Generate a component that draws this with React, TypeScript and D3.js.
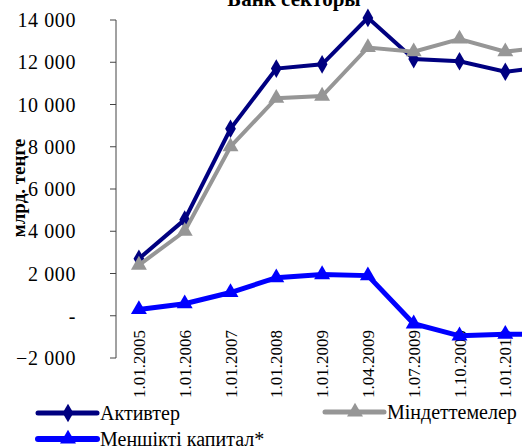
import React from "react";
import * as d3 from "d3";

const categories = [
    "1.01.2005",
    "1.01.2006",
    "1.01.2007",
    "1.01.2008",
    "1.01.2009",
    "1.04.2009",
    "1.07.2009",
    "1.10.2009",
    "1.01.2010",
    "1.04.2010",
];

// млрд. теңге
const assets = [2700, 4550, 8850, 11700, 11900, 14100, 12150, 12050, 11550, 11800];
const liabilities = [2400, 4000, 8000, 10300, 10400, 12700, 12500, 13100, 12500, 12750];
const equity = [300, 570, 1100, 1800, 1950, 1900, -380, -950, -870, -880];

const yTicks = [-2000, 0, 2000, 4000, 6000, 8000, 10000, 12000, 14000];

const seriesNames = ["Активтер", "Міндеттемелер", "Меншікті капитал*"];

const W = 522;
const H = 448;
const FONT = "Liberation Serif, Times New Roman, serif";

const fmt = (v: number) =>
    v === 0 ? "-" : d3.format(",")(v).replace(/,/g, " ");

const diamond = d3.symbol(d3.symbolDiamond, 100)();
const triangle = d3.symbol(d3.symbolTriangle, 110)();

const App: React.FC = () => {
    // plot area
    const left = 116;
    const bandW = 45.8;

    const x = d3
        .scaleBand<string>()
        .domain(categories)
        .range([left, left + bandW * categories.length])
        .padding(0);
    const cx = (c: string) => (x(c) ?? 0) + x.bandwidth() / 2;

    const y = d3.scaleLinear().domain([-2000, 14000]).range([358, 20]);

    const series = [
        { name: seriesNames[0], values: assets, color: "#000080", width: 4, marker: diamond },
        { name: seriesNames[1], values: liabilities, color: "#969696", width: 4, marker: triangle },
        { name: seriesNames[2], values: equity, color: "#0000ff", width: 5, marker: triangle },
    ];

    const line = d3
        .line<number>()
        .x((_, i) => cx(categories[i]))
        .y((d) => y(d));

    const legendItems = [
        { s: series[0], lx: 38, ly: 413 },
        { s: series[1], lx: 325, ly: 412 },
        { s: series[2], lx: 38, ly: 439 },
    ];

    const txt = { fontFamily: FONT };

    return (
        <svg
            width={W}
            height={H}
            style={{ position: "absolute", left: 0, top: 0, background: "#fff", fontFamily: FONT }}
        >
            {/* title */}
            <text x={294} y={6} textAnchor="middle" fontSize={21} fontWeight="bold" style={txt}>
                Банк секторы
            </text>

            {/* y axis */}
            <line x1={left} x2={left} y1={y(14000)} y2={y(-2000)} stroke="#444" strokeWidth={1} />
            {yTicks.map((t) => (
                <g key={t}>
                    <line x1={left - 6} x2={left} y1={y(t)} y2={y(t)} stroke="#444" strokeWidth={1} />
                    <text
                        x={76}
                        y={y(t)}
                        dy="0.35em"
                        textAnchor="end"
                        fontSize={20}
                        letterSpacing={0.6}
                        style={txt}
                    >
                        {fmt(t)}
                    </text>
                </g>
            ))}
            <text
                transform={`translate(25,188) rotate(-90)`}
                textAnchor="middle"
                fontSize={19}
                fontWeight="bold"
                style={txt}
            >
                млрд. теңге
            </text>

            {/* x labels */}
            {categories.map((c) => (
                <text
                    key={c}
                    transform={`translate(${cx(c) + 6},${330}) rotate(-90)`}
                    textAnchor="end"
                    fontSize={17}
                    style={txt}
                >
                    {c}
                </text>
            ))}

            {/* series */}
            {series.map((s) => (
                <g key={s.name}>
                    <path
                        d={line(s.values) ?? ""}
                        fill="none"
                        stroke={s.color}
                        strokeWidth={s.width}
                        strokeLinejoin="miter"
                    />
                    {s.values.map((v, i) => (
                        <path
                            key={i}
                            d={s.marker ?? ""}
                            transform={`translate(${cx(categories[i])},${y(v)})`}
                            fill={s.color}
                        />
                    ))}
                </g>
            ))}

            {/* legend */}
            {legendItems.map(({ s, lx, ly }) => (
                <g key={s.name}>
                    <line
                        x1={lx}
                        x2={lx + 59}
                        y1={ly}
                        y2={ly}
                        stroke={s.color}
                        strokeWidth={s.width + 1}
                        strokeLinecap="round"
                    />
                    <path d={s.marker ?? ""} transform={`translate(${lx + 30},${ly})`} fill={s.color} />
                    <text x={lx + 62} y={ly} dy="0.35em" fontSize={20} style={txt}>
                        {s.name}
                    </text>
                </g>
            ))}
        </svg>
    );
};

export default App;
